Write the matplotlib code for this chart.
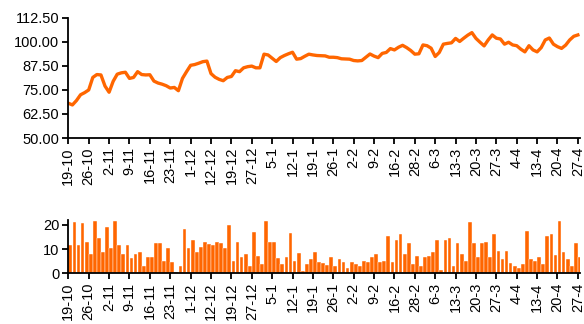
import matplotlib
matplotlib.use("Agg")
import matplotlib.pyplot as plt
import numpy as np

plt.rcParams["font.family"] = ["Liberation Sans", "DejaVu Sans"]

# tick labels, one every five trading days
date_labels = [
    "19-10", "26-10", "2-11", "9-11", "16-11", "23-11", "1-12", "12-12",
    "19-12", "27-12", "5-1", "12-1", "19-1", "26-1", "2-2", "9-2", "16-2",
    "28-2", "6-3", "13-3", "20-3", "27-3", "4-4", "13-4", "20-4", "27-4",
]

# daily index level
price = [
    68.1, 67.2, 69.5, 72.5, 73.6, 75.0, 81.5, 83.0, 82.8, 77.0,
    73.8, 79.5, 83.2, 83.9, 84.2, 81.0, 81.5, 84.5, 83.0, 82.8,
    82.9, 79.6, 78.6, 78.0, 77.2, 76.0, 76.3, 74.6, 81.0, 84.5,
    87.8, 88.2, 88.9, 89.7, 90.0, 83.5, 81.6, 80.5, 79.8, 81.5,
    82.0, 85.0, 84.5, 86.5, 87.1, 87.4, 86.5, 86.5, 93.6, 93.2,
    91.5, 89.8, 91.8, 92.9, 93.8, 94.6, 91.0, 91.3, 92.5, 93.6,
    93.2, 92.9, 92.8, 92.7, 92.0, 92.0, 91.8, 91.2, 91.1, 91.0,
    90.3, 90.1, 90.3, 92.0, 93.7, 92.6, 91.8, 94.0, 94.5, 96.5,
    95.8, 97.2, 98.2, 97.0, 95.5, 93.6, 93.8, 98.4, 98.0, 96.7,
    92.4, 94.5, 98.8, 99.2, 99.5, 101.8, 100.2, 101.9, 103.5, 104.8,
    101.8, 99.8, 97.9, 101.0, 103.6, 101.9, 101.5, 98.8, 99.8, 98.4,
    98.0, 96.2, 94.8, 98.0, 95.8, 94.8, 97.0, 101.0, 102.0, 98.8,
    97.5, 96.6, 98.3, 101.0, 102.9, 103.6,
]

# daily volume
volume = [
    11.6, 21.0, 11.6, 20.5, 13.0, 8.0, 21.5, 14.4, 8.9, 18.8,
    10.3, 21.5, 11.6, 8.0, 11.6, 6.4, 8.0, 8.6, 3.0, 6.6,
    6.6, 12.3, 12.3, 5.1, 10.3, 4.5, 0.8, 3.0, 18.0, 10.3,
    13.7, 8.9, 11.0, 13.0, 12.0, 11.6, 12.9, 12.3, 10.3, 19.8,
    5.2, 13.0, 6.6, 8.0, 3.2, 17.0, 7.3, 3.8, 21.5, 13.0,
    13.0, 6.4, 3.8, 6.6, 16.7, 5.2, 8.2, 1.0, 3.8, 5.8,
    8.6, 4.5, 4.1, 3.4, 6.6, 3.2, 5.9, 4.5, 2.3, 4.5,
    3.8, 3.0, 5.2, 4.5, 6.6, 8.0, 4.5, 5.0, 15.3, 4.5,
    13.7, 16.0, 8.0, 12.3, 3.8, 7.3, 3.2, 6.6, 7.3, 8.6,
    13.7, 1.6, 13.7, 14.4, 3.2, 12.3, 8.0, 5.1, 21.0, 12.3,
    6.6, 12.3, 13.0, 6.6, 16.0, 9.3, 5.9, 9.3, 4.4, 3.2,
    2.3, 3.8, 17.4, 5.9, 5.2, 6.6, 3.8, 15.3, 16.0, 7.5,
    21.5, 8.9, 5.9, 3.2, 12.3, 6.6,
]

ORANGE = "#FF6600"
tick_pos = np.arange(0, 5 * len(date_labels), 5)


def style_axis(ax):
    for side in ("top", "right"):
        ax.spines[side].set_visible(False)
    for side in ("left", "bottom"):
        ax.spines[side].set_linewidth(1.3)
        ax.spines[side].set_color("black")
    ax.tick_params(direction="out", length=4, width=1.3, labelsize=10.5,
                   colors="black", pad=2.5)
    ax.set_xticks(tick_pos)
    ax.set_xticklabels(date_labels, rotation=90)
    ax.set_xlim(0, 125.5)


fig = plt.figure(figsize=(5.84, 3.24), dpi=100)

ax1 = fig.add_axes([0.117, 0.574, 0.876, 0.371])
ax1.plot(np.arange(len(price)), price, color=ORANGE, linewidth=2.4,
         solid_joinstyle="round")
ax1.set_ylim(50, 112.5)
ax1.set_yticks(np.arange(50, 112.51, 12.5))
ax1.set_yticklabels([f"{v:.2f}" for v in np.arange(50, 112.51, 12.5)])
style_axis(ax1)

ax2 = fig.add_axes([0.117, 0.156, 0.876, 0.166])
ax2.bar(np.arange(len(volume)) + 0.5, volume, width=0.92, color=ORANGE,
        edgecolor="white", linewidth=0.3)
ax2.set_ylim(0, 22)
ax2.set_yticks([0, 10, 20])
style_axis(ax2)

fig.savefig("out.png", dpi=100)
